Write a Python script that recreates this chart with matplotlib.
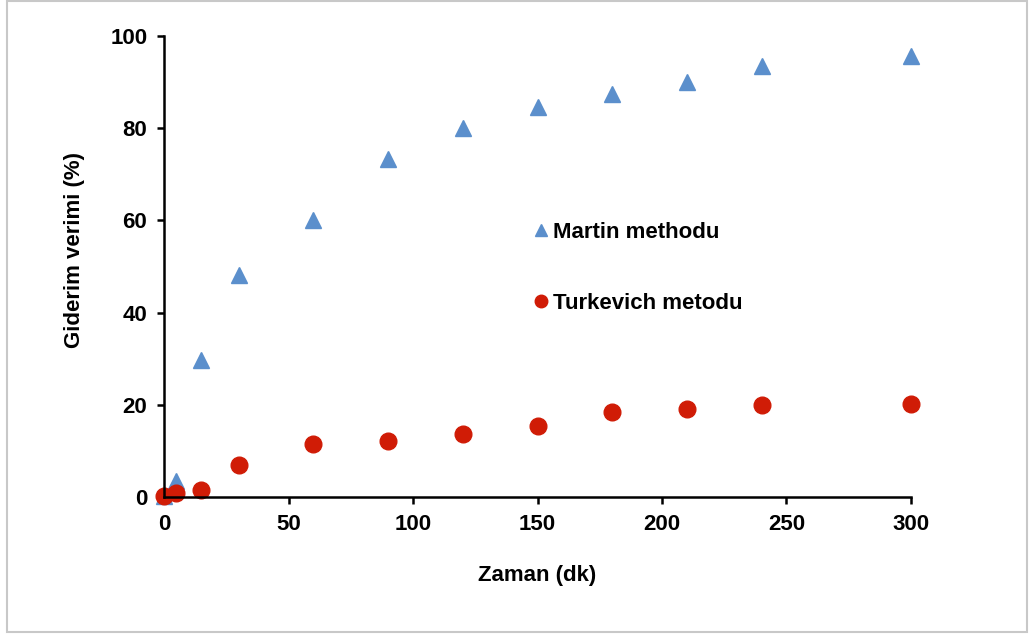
import matplotlib
matplotlib.use("Agg")
import matplotlib.pyplot as plt
from matplotlib.patches import Rectangle

plt.rcParams['font.family'] = ['Liberation Sans', 'DejaVu Sans']
plt.rcParams['font.weight'] = 'bold'

zaman = [0, 5, 15, 30, 60, 90, 120, 150, 180, 210, 240, 300]
martin = [0.2, 3.5, 29.7, 48.2, 60.1, 73.4, 80.0, 84.6, 87.4, 90.1, 93.5, 95.6]
turkevich = [0.3, 0.8, 1.5, 6.9, 11.6, 12.1, 13.6, 15.3, 18.4, 19.1, 19.9, 20.2]

fig = plt.figure(figsize=(10.29, 6.36), dpi=100)
fig.patches.append(Rectangle((7 / 1029, 4 / 636), 1020 / 1029, 631 / 636,
                             transform=fig.transFigure, fill=False,
                             edgecolor='#C8C8C8', linewidth=1.5))
ax = fig.add_axes([164 / 1029, 1 - 497 / 636, 747 / 1029, 461 / 636])

ax.plot(zaman, martin, linestyle='none', marker='^', markersize=12,
        color='#5B8FCC', label='Martin methodu', clip_on=False)
ax.plot(zaman, turkevich, linestyle='none', marker='o', markersize=12,
        color='#D01C06', label='Turkevich metodu', clip_on=False)

ax.set_xlim(0, 300)
ax.set_ylim(0, 100)
ax.set_xticks(range(0, 301, 50))
ax.set_yticks(range(0, 101, 20))
for s in ['top', 'right']:
    ax.spines[s].set_visible(False)
for s in ['left', 'bottom']:
    ax.spines[s].set_linewidth(1.8)
ax.tick_params(direction='out', length=5, width=1.8, labelsize=16, pad=7)

ax.set_xlabel('Zaman (dk)', fontsize=16, fontweight='bold', labelpad=22)
ax.set_ylabel('Giderim verimi (%)', fontsize=16, fontweight='bold', labelpad=18)
ax.yaxis.label.set_y(0.536)

ax.legend(loc='center left', bbox_to_anchor=(0.469, 0.497), frameon=False,
          fontsize=16, handlelength=0.6, handletextpad=0.25, labelspacing=2.25,
          markerscale=0.75)

fig.savefig('out.png', dpi=100)
